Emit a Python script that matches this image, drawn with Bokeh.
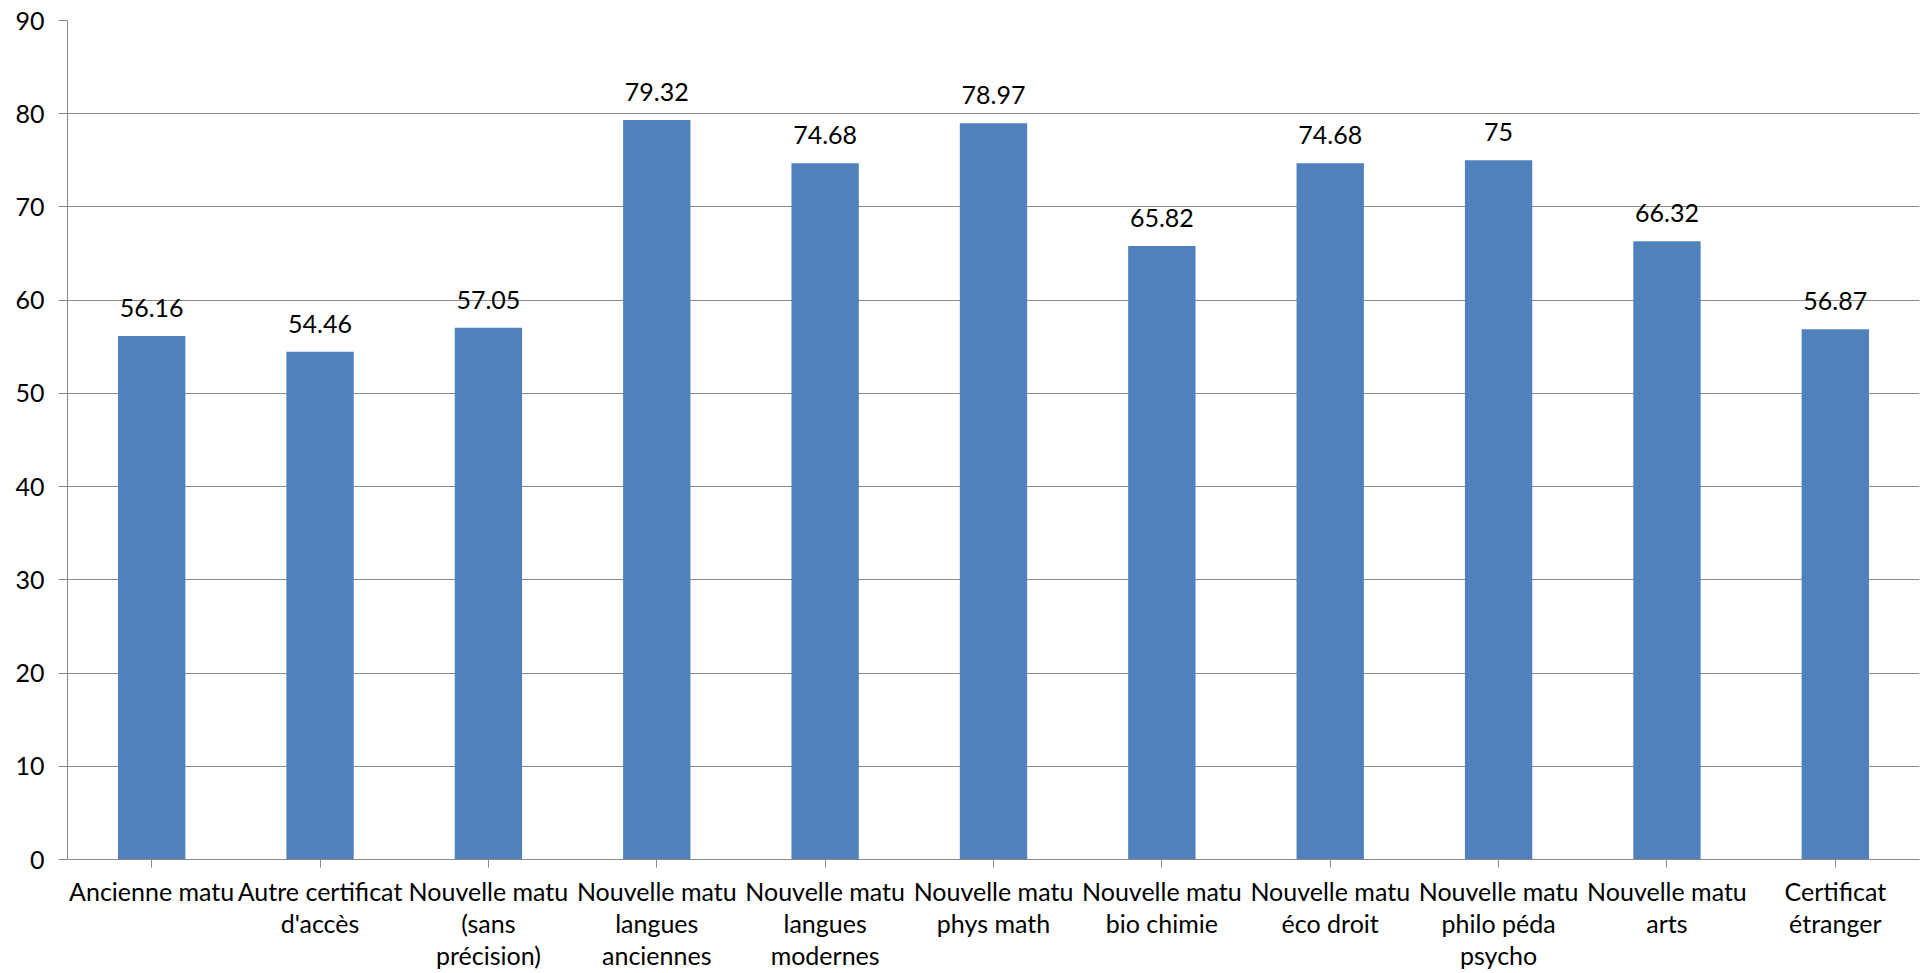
from bokeh.plotting import figure
from bokeh.models import ColumnDataSource, FactorRange, Range1d, FixedTicker, LabelSet
from bokeh.core.properties import value
from bokeh.embed import file_html
from bokeh.resources import INLINE

categories = [
    "Ancienne matu",
    "Autre certificat\nd'accès",
    "Nouvelle matu\n(sans\nprécision)",
    "Nouvelle matu\nlangues\nanciennes",
    "Nouvelle matu\nlangues\nmodernes",
    "Nouvelle matu\nphys math",
    "Nouvelle matu\nbio chimie",
    "Nouvelle matu\néco droit",
    "Nouvelle matu\nphilo péda\npsycho",
    "Nouvelle matu\narts",
    "Certificat\nétranger",
]
values = [56.16, 54.46, 57.05, 79.32, 74.68, 78.97, 65.82, 74.68, 75, 66.32, 56.87]
value_labels = ["56.16", "54.46", "57.05", "79.32", "74.68", "78.97", "65.82", "74.68", "75", "66.32", "56.87"]
y_ticks = [0, 10, 20, 30, 40, 50, 60, 70, 80, 90]

FONT = "Lato"
GRAY = "#898989"
FS = "25px"

src = ColumnDataSource(data=dict(cat=categories, val=values, lab=value_labels))

p = figure(
    x_range=FactorRange(factors=categories, range_padding=0),
    y_range=Range1d(0, 90),
    width=1925, height=973,
    output_backend="svg", toolbar_location=None,
    min_border_left=67, min_border_right=6, min_border_top=20, min_border_bottom=114,
)
p.outline_line_color = None
p.background_fill_color = "white"
p.border_fill_color = "white"

p.vbar(x="cat", top="val", width=0.4, source=src, fill_color="#4F81BD", line_color=None)

labels = LabelSet(x="cat", y="val", text="lab", source=src, text_align="center",
                  text_baseline="alphabetic", y_offset=19, text_font=value(FONT),
                  text_font_size=FS, text_color="black")
p.add_layout(labels)

p.yaxis.ticker = FixedTicker(ticks=y_ticks)
p.yaxis.minor_tick_line_color = None
p.yaxis.major_tick_out = 9
p.yaxis.major_tick_in = 0
p.yaxis.major_label_standoff = 14
p.yaxis.axis_line_color = GRAY
p.yaxis.major_tick_line_color = GRAY
p.yaxis.major_label_text_font = FONT
p.yaxis.major_label_text_font_size = FS
p.yaxis.major_label_text_color = "black"

p.xaxis.major_tick_out = 8
p.xaxis.major_tick_in = 0
p.xaxis.axis_line_color = GRAY
p.xaxis.major_tick_line_color = GRAY
p.xaxis.major_label_text_font = FONT
p.xaxis.major_label_text_font_size = FS
p.xaxis.major_label_text_line_height = 1.08
p.xaxis.major_label_text_color = "black"
p.xaxis.major_label_standoff = 8

p.xgrid.grid_line_color = None
p.ygrid.grid_line_color = GRAY
p.ygrid.grid_line_width = 1

open("out.html", "w").write(file_html(p, INLINE))
